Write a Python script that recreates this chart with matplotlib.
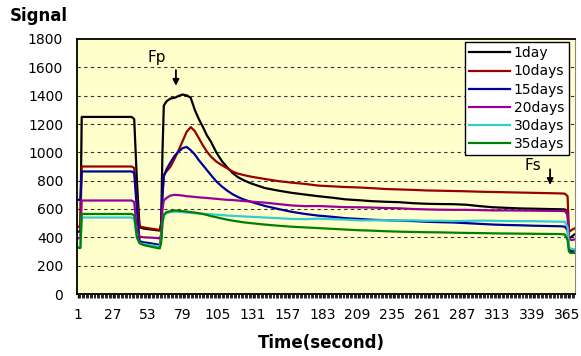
import matplotlib.pyplot as plt
from matplotlib.ticker import MultipleLocator, FixedLocator

# time samples (seconds) shared by every series
time = [1, 3, 4, 6, 15, 25, 35, 41, 43, 45, 47, 50, 55, 60, 62, 63, 64, 65, 67, 70,
        73, 76, 79, 82, 85, 88, 91, 94, 97, 100, 104, 108, 112, 116, 120, 125, 130,
        140, 150, 160, 170, 180, 190, 200, 210, 220, 230, 240, 250, 260, 270, 280,
        290, 300, 310, 320, 330, 340, 350, 360, 363, 365, 366, 367, 368, 370]

day1 = [440, 440, 1250, 1250, 1250, 1250, 1250, 1250, 1235, 800, 470, 462, 456, 450, 448, 500, 1000, 1330, 1360, 1380,
        1385, 1398, 1408, 1402, 1385, 1300, 1235, 1180, 1120, 1075, 1000, 940, 895, 855, 825, 800, 780,
        748, 730, 714, 702, 690, 680, 668, 662, 655, 651, 648, 641, 637, 635, 634,
        630, 620, 612, 608, 604, 602, 600, 598, 597, 560, 400, 398, 405, 420]
days10 = [475, 475, 900, 900, 900, 900, 900, 900, 890, 650, 478, 470, 462, 455, 452, 480, 700, 840, 865, 900,
          955, 1015, 1080, 1145, 1178, 1150, 1100, 1050, 1005, 970, 935, 910, 888, 865, 850, 838, 828,
          812, 797, 786, 777, 765, 760, 755, 752, 747, 741, 738, 735, 731, 729, 727,
          725, 722, 720, 718, 716, 714, 712, 710, 708, 690, 440, 445, 452, 462]
days15 = [665, 665, 865, 865, 865, 865, 865, 865, 855, 600, 372, 365, 358, 350, 346, 400, 700, 830, 880, 930,
          975, 1005, 1030, 1038, 1015, 985, 945, 910, 875, 840, 795, 760, 730, 705, 685, 665, 650,
          622, 600, 580, 565, 553, 545, 535, 530, 524, 521, 517, 515, 510, 507, 505,
          500, 495, 490, 487, 485, 482, 480, 478, 475, 450, 320, 305, 300, 308]
days20 = [393, 393, 660, 660, 660, 660, 660, 660, 650, 450, 405, 400, 398, 395, 392, 420, 600, 660, 678, 695,
          700, 698, 695, 690, 688, 685, 682, 680, 678, 675, 672, 668, 665, 663, 660, 656, 652,
          645, 635, 625, 620, 621, 617, 613, 612, 610, 607, 605, 600, 597, 595, 594,
          594, 592, 590, 590, 589, 588, 587, 586, 585, 560, 400, 385, 380, 385]
days30 = [330, 330, 540, 540, 540, 540, 540, 540, 530, 400, 360, 352, 345, 338, 335, 380, 500, 555, 570, 578,
          582, 580, 578, 575, 573, 570, 568, 566, 564, 562, 560, 557, 554, 552, 550, 547, 545,
          540, 535, 530, 528, 532, 528, 525, 520, 520, 521, 518, 520, 517, 517, 515,
          516, 518, 517, 515, 514, 514, 512, 510, 510, 470, 335, 322, 318, 315]
days35 = [325, 325, 565, 565, 565, 565, 565, 565, 555, 400, 358, 345, 335, 325, 322, 360, 500, 560, 578, 585,
          590, 588, 585, 582, 578, 575, 570, 565, 558, 550, 542, 533, 525, 518, 512, 505, 500,
          490, 482, 475, 470, 465, 460, 455, 450, 447, 443, 440, 438, 436, 435, 433,
          431, 430, 428, 427, 426, 425, 424, 423, 420, 380, 300, 290, 290, 290]

labels = ['1day', '10days', '15days', '20days', '30days', '35days']
colors = ['#000000', '#990000', '#000099', '#990099', '#33CCCC', '#008000']
series = [day1, days10, days15, days20, days30, days35]

xticks = [1, 27, 53, 79, 105, 131, 157, 183, 209, 235, 261, 287, 313, 339, 365]
yticks = [0, 200, 400, 600, 800, 1000, 1200, 1400, 1600, 1800]

fig = plt.figure(figsize=(5.81, 3.56), dpi=100)
ax = fig.add_axes([77 / 581, 1 - 294 / 356, 498 / 581, 255 / 356])
ax.set_facecolor('#FFFFCC')

for vals, lab, col in zip(series, labels, colors):
    ax.plot(time, vals, color=col, lw=1.6, label=lab)

ax.set_xlim(0.5, 370.5)
ax.set_ylim(0, 1800)
ax.set_yticks(yticks)
ax.xaxis.set_major_locator(FixedLocator(xticks))
ax.xaxis.set_minor_locator(MultipleLocator(1))
ax.tick_params(axis='x', which='major', length=3, width=1, pad=7, labelsize=10)
ax.tick_params(axis='x', which='minor', length=3, width=0.6)
ax.tick_params(axis='y', length=0, pad=10, labelsize=10)
for yv in yticks[1:-1]:
    ax.axhline(yv, color='#333333', lw=0.8, ls=(0, (3, 3)), zorder=0.5)

for side in ['left', 'bottom', 'top']:
    ax.spines[side].set_linewidth(1.3)
ax.spines['right'].set_color('#888888')

# markers for Fp and Fs
ax.text(60, 1668, 'Fp', fontsize=11, ha='center', va='center')
ax.annotate('', xy=(74, 1450), xytext=(74, 1600),
            arrowprops=dict(arrowstyle='-|>', color='black', lw=1.3, mutation_scale=9))
ax.text(339, 905, 'Fs', fontsize=11, ha='center', va='center')
ax.annotate('', xy=(352, 750), xytext=(352, 900),
            arrowprops=dict(arrowstyle='-|>', color='black', lw=1.3, mutation_scale=9))

leg = ax.legend(loc='upper right', bbox_to_anchor=(0.987, 0.988), fontsize=10,
                frameon=True, fancybox=False, handlelength=2.9, handletextpad=0.3,
                labelspacing=0.3, borderpad=0.3, borderaxespad=0)
leg.get_frame().set_edgecolor('black')
leg.get_frame().set_linewidth(1)
leg.get_frame().set_facecolor('white')
leg.get_frame().set_alpha(1)

fig.text(10 / 581, 1 - 16 / 356, 'Signal', fontsize=12, fontweight='bold', va='center')
fig.text(321 / 581, 1 - 343 / 356, 'Time(second)', fontsize=12, fontweight='bold',
         ha='center', va='center')

fig.savefig('out.png', dpi=100)
